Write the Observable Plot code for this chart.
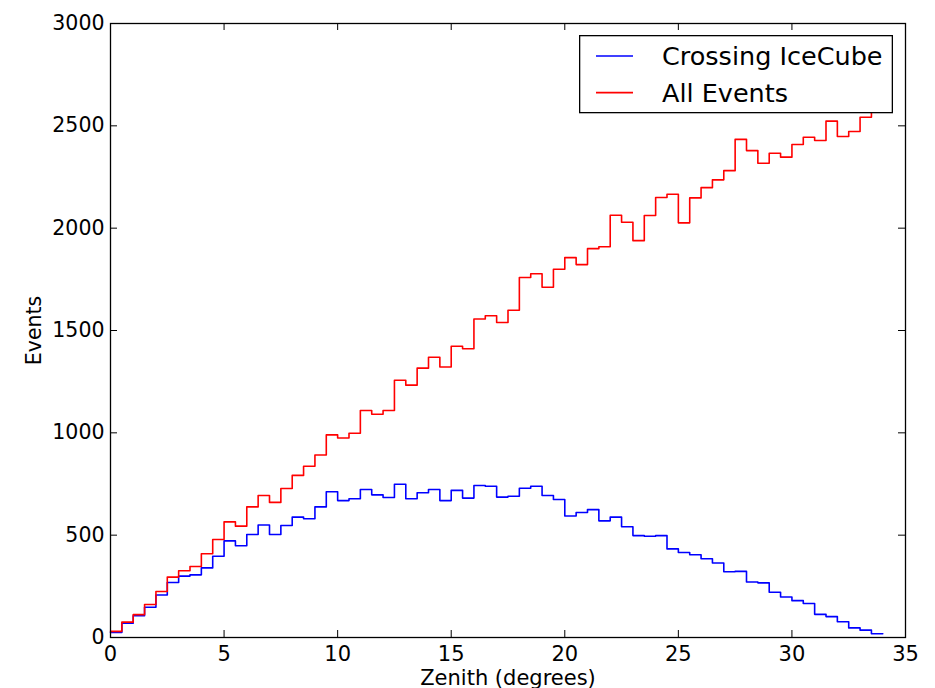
<!DOCTYPE html>
<html>
<head>
<meta charset="utf-8">
<script src="https://cdn.jsdelivr.net/npm/d3@7"></script>
<script src="https://cdn.jsdelivr.net/npm/@observablehq/plot@0.6"></script>
<style>
  body { margin: 0; background: #fff; }
  #wrap { position: relative; width: 935px; height: 688px; }
  #legend { position: absolute; left: 579px; top: 35px; }
</style>
</head>
<body>
<div id="wrap"></div>
<script>
// ---- data ----
const binWidth = 0.5; // degrees
const seriesNames = ["Crossing IceCube", "All Events"];
const seriesColors = ["#0000ff", "#ff0000"];
const crossingIceCube = [
  25, 70, 106, 148, 208, 269, 300, 306, 340, 397,
  472, 448, 503, 550, 503, 547, 588, 580, 638, 712,
  669, 678, 723, 697, 684, 749, 678, 707, 723, 669,
  719, 681, 743, 739, 686, 690, 729, 739, 694, 674,
  594, 611, 625, 570, 588, 541, 498, 495, 498, 433,
  415, 404, 385, 364, 321, 323, 271, 267, 221, 198,
  180, 166, 113, 102, 77, 47, 36, 18
];
const allEvents = [
  30, 75, 112, 161, 225, 295, 326, 347, 409, 479,
  565, 544, 638, 694, 660, 728, 792, 837, 892, 990,
  975, 998, 1109, 1091, 1109, 1257, 1233, 1316, 1369, 1322,
  1423, 1411, 1556, 1572, 1539, 1599, 1759, 1777, 1711, 1799,
  1856, 1822, 1900, 1909, 2063, 2029, 1939, 2062, 2150, 2166,
  2026, 2148, 2198, 2236, 2281, 2434, 2379, 2317, 2366, 2347,
  2409, 2444, 2428, 2523, 2448, 2472, 2542, 2620
];
const xTicks = [0, 5, 10, 15, 20, 25, 30, 35];
const yTicks = [0, 500, 1000, 1500, 2000, 2500, 3000];
const xLabel = "Zenith (degrees)";
const yLabel = "Events";

// step outline points: left edge of each bin + closing right edge
function steps(values) {
  const pts = values.map((v, i) => ({x: i * binWidth, y: v}));
  pts.push({x: values.length * binWidth, y: values[values.length - 1]});
  return pts;
}

const W = 935, H = 688;
const mL = 110, mR = 30, mT = 23, mB = 51;
const plotW = W - mL - mR, plotH = H - mT - mB;
const tickLen = 7;

const chart = Plot.plot({
  width: W,
  height: H,
  marginLeft: mL,
  marginRight: mR,
  marginTop: mT,
  marginBottom: mB,
  style: {fontFamily: "DejaVu Sans", fontSize: "20.5px", color: "#000", background: "#fff"},
  x: {domain: [0, 35]},
  y: {domain: [0, 3000]},
  marks: [
    Plot.line(steps(crossingIceCube), {x: "x", y: "y", curve: "step-after", stroke: seriesColors[0], strokeWidth: 1.6}),
    Plot.line(steps(allEvents), {x: "x", y: "y", curve: "step-after", stroke: seriesColors[1], strokeWidth: 1.6}),
    // inward ticks on all four sides
    Plot.tickX(xTicks, {x: d => d, insetTop: plotH - tickLen, stroke: "#000", strokeWidth: 1}),
    Plot.tickX(xTicks, {x: d => d, insetBottom: plotH - tickLen, stroke: "#000", strokeWidth: 1}),
    Plot.tickY(yTicks, {y: d => d, insetRight: plotW - tickLen, stroke: "#000", strokeWidth: 1}),
    Plot.tickY(yTicks, {y: d => d, insetLeft: plotW - tickLen, stroke: "#000", strokeWidth: 1}),
    Plot.axisX(xTicks, {tickSize: 0, tickPadding: 9, tickFormat: d3.format("d"), label: xLabel, labelAnchor: "center", labelArrow: "none", labelOffset: 47, fontSize: "21px"}),
    Plot.axisY(yTicks, {tickSize: 0, tickPadding: 6, tickFormat: d3.format("d"), label: yLabel, labelAnchor: "center", labelArrow: "none", labelOffset: 84}),
    Plot.frame({stroke: "#000", strokeWidth: 1.3})
  ]
});
document.getElementById("wrap").appendChild(chart);

// legend (drawn inside the axes, upper right)
const lg = d3.select("#wrap").append("svg")
  .attr("id", "legend").attr("width", 314).attr("height", 79)
  .style("font-family", "DejaVu Sans").style("font-size", "25.5px");
lg.append("rect").attr("x", 0.65).attr("y", 0.65).attr("width", 312.7).attr("height", 77)
  .attr("fill", "#fff").attr("stroke", "#000").attr("stroke-width", 1.3);
seriesNames.forEach((name, i) => {
  const yLine = 21 + i * 36.6;
  lg.append("line").attr("x1", 17).attr("x2", 54).attr("y1", yLine).attr("y2", yLine)
    .attr("stroke", seriesColors[i]).attr("stroke-width", 1.6);
  lg.append("text").attr("x", 83).attr("y", 30 + i * 36.6).attr("fill", "#000").text(name);
});
</script>
</body>
</html>
